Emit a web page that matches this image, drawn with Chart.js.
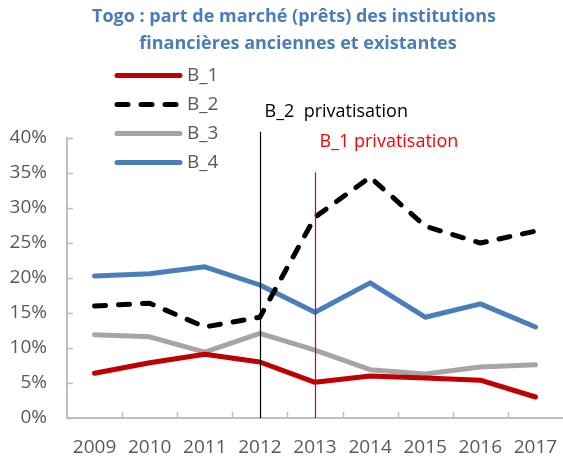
<!DOCTYPE html>
<html>
<head>
<meta charset="utf-8">
<script src="https://cdn.jsdelivr.net/npm/chart.js@4"></script>
<style>
  html, body { margin: 0; padding: 0; background: #fff; }
  #wrap { width: 563px; height: 460px; }
</style>
</head>
<body>
<div id="wrap"><canvas id="shareChart" width="563" height="460"></canvas></div>
<script>
const years = ["2009", "2010", "2011", "2012", "2013", "2014", "2015", "2016", "2017"];

const b1 = [6.4, 7.9, 9.1, 8.0, 5.1, 6.0, 5.7, 5.4, 3.0];
const b2 = [16.0, 16.4, 13.0, 14.4, 28.7, 34.4, 27.4, 25.0, 26.7];
const b3 = [11.9, 11.6, 9.4, 12.1, 9.7, 6.9, 6.3, 7.3, 7.6];
const b4 = [20.3, 20.6, 21.6, 19.0, 15.1, 19.3, 14.4, 16.3, 13.0];

const seriesNames = ["B_1", "B_2", "B_3", "B_4"];
const yTicks = [0, 5, 10, 15, 20, 25, 30, 35, 40];

// privatisation markers (year, height of the vertical line in %)
const markerLabels = ["B_2  privatisation", "B_1 privatisation"];
const markerYears = ["2012", "2013"];
const markerTops = [40.9, 35.1];

const titleLines = [
  "Togo : part de marché (prêts) des institutions",
  "financières anciennes et existantes",
];

const FONT = "'Open Sans', 'DejaVu Sans', sans-serif";
const AXIS_GREY = "#bfbfbf";
const TEXT_GREY = "#595959";

function lineSet(label, data, color, dash) {
  return {
    label: label,
    data: data,
    borderColor: color,
    backgroundColor: color,
    borderWidth: 5,
    borderDash: dash || [],
    borderCapStyle: "round",
    borderJoinStyle: "round",
    pointRadius: 0,
    tension: 0,
  };
}

const decorations = {
  id: "decorations",
  afterDraw(chart) {
    const c = chart.ctx;
    const x = chart.scales.x;
    const y = chart.scales.y;
    c.save();

    // title
    c.fillStyle = "#4a7ebb";
    c.font = "bold 18px " + FONT;
    c.textAlign = "center";
    c.textBaseline = "middle";
    c.fillText(titleLines[0], 294, 17);
    c.fillText(titleLines[1], 298, 44);

    // inward tick marks
    c.strokeStyle = AXIS_GREY;
    c.lineWidth = 1.5;
    yTicks.forEach((v) => {
      const py = Math.round(y.getPixelForValue(v)) + 0.5;
      c.beginPath();
      c.moveTo(x.left, py);
      c.lineTo(x.left + 6, py);
      c.stroke();
    });
    for (let i = 1; i < years.length; i++) {
      const px = Math.round((x.getPixelForValue(i - 1) + x.getPixelForValue(i)) / 2) + 0.5;
      c.beginPath();
      c.moveTo(px, y.bottom);
      c.lineTo(px, y.bottom - 6);
      c.stroke();
    }

    // privatisation markers
    const markerColors = ["#000000", "#e00000"];
    const textColors = ["#000000", "#ff0000"];
    const textLevels = [43.7, 39.4];
    markerYears.forEach((yr, i) => {
      const px = Math.round(x.getPixelForValue(years.indexOf(yr))) + 0.5;
      c.strokeStyle = markerColors[i];
      c.lineWidth = 1.2;
      c.beginPath();
      c.moveTo(px, y.getPixelForValue(markerTops[i]));
      c.lineTo(px, y.bottom);
      c.stroke();

      c.fillStyle = textColors[i];
      c.font = "18px " + FONT;
      c.textAlign = "left";
      c.textBaseline = "middle";
      c.fillText(markerLabels[i], px + 4, y.getPixelForValue(textLevels[i]));
    });

    // legend
    chart.data.datasets.forEach((ds, i) => {
      const ly = 75.5 + i * 29;
      c.strokeStyle = ds.borderColor;
      c.lineWidth = 5;
      c.lineCap = "round";
      c.setLineDash(ds.borderDash.length ? [11, 13] : []);
      c.beginPath();
      c.moveTo(117, ly);
      c.lineTo(180, ly);
      c.stroke();
      c.setLineDash([]);
      c.fillStyle = TEXT_GREY;
      c.font = "19px " + FONT;
      c.textAlign = "left";
      c.textBaseline = "middle";
      c.fillText(ds.label, 187, ly);
    });

    c.restore();
  },
};

const ctx = document.getElementById("shareChart");

const chart = new Chart(ctx, {
  type: "line",

  data: {
    labels: years,
    datasets: [
      lineSet(seriesNames[0], b1, "#c00000"),
      lineSet(seriesNames[1], b2, "#000000", [11, 13]),
      lineSet(seriesNames[2], b3, "#a5a5a5"),
      lineSet(seriesNames[3], b4, "#4a7ebb"),
    ],
  },

  options: {
    responsive: false,
    animation: false,
    layout: {
      padding: { top: 138, left: 7, right: 0, bottom: 0 },
    },

    plugins: {
      legend: { display: false },
      title: { display: false },
      tooltip: { enabled: false },
    },

    scales: {
      x: {
        offset: true,
        grid: { display: false, drawTicks: false, offset: true },
        border: { color: AXIS_GREY, width: 2 },
        ticks: {
          color: TEXT_GREY,
          font: { family: FONT, size: 19 },
          padding: 18,
          maxRotation: 0,
        },
        afterFit: (scale) => {
          scale.height = 42;
          scale.paddingLeft = 0;
          scale.paddingRight = 0;
        },
      },

      y: {
        min: 0,
        max: 40,
        grid: { display: false, drawTicks: false },
        border: { color: AXIS_GREY, width: 2 },
        ticks: {
          stepSize: 5,
          color: TEXT_GREY,
          font: { family: FONT, size: 19 },
          padding: 20,
          callback: (v) => v + "%",
        },
        afterFit: (scale) => {
          scale.width = 60;
        },
      },
    },
  },

  plugins: [decorations],
});
</script>
</body>
</html>
